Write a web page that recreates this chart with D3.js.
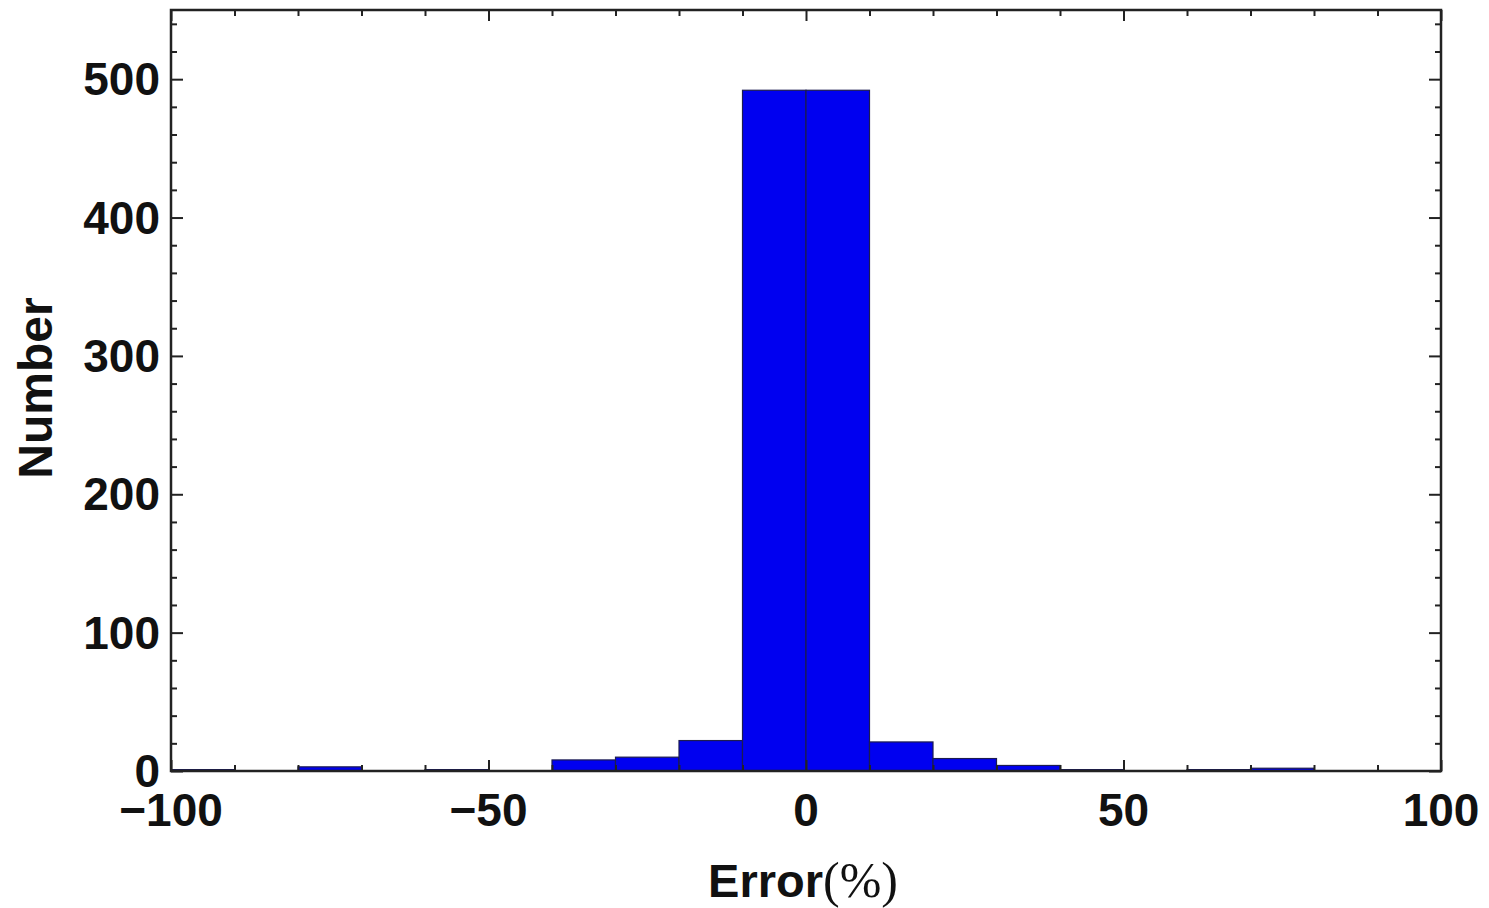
<!DOCTYPE html>
<html>
<head>
<meta charset="utf-8">
<script src="https://cdn.jsdelivr.net/npm/d3@7"></script>
<style>
  body { margin: 0; background: #fff; }
  svg { display: block; }
  .lbl { font-family: "Liberation Sans", Arial, sans-serif; font-weight: bold; fill: #111; }
</style>
</head>
<body>
<svg id="chart" width="1489" height="908"></svg>
<script>
// histogram bins (left edges, width 10) and counts
var binStarts = [-100, -90, -80, -70, -60, -50, -40, -30, -20, -10, 0, 10, 20, 30, 40, 50, 60, 70, 80, 90];
var counts    = [1, 0, 3, 0, 1, 0, 8, 10, 22, 492, 492, 21, 9, 4, 1, 0, 1, 2, 0, 0];
var binWidth = 10;

var xMajor = [-100, -50, 0, 50, 100];
var xMinor = [-90, -80, -70, -60, -40, -30, -20, -10, 10, 20, 30, 40, 60, 70, 80, 90];
var yMajor = [0, 100, 200, 300, 400, 500];
var yMinor = [20, 40, 60, 80, 120, 140, 160, 180, 220, 240, 260, 280, 320, 340, 360, 380, 420, 440, 460, 480, 520, 540];

var svg = d3.select('#chart');
var plotL = 171, plotR = 1441, plotT = 10, plotB = 771;

var x = d3.scaleLinear().domain([-100, 100]).range([plotL, plotR]);
var y = d3.scaleLinear().domain([0, 550]).range([plotB, plotT]);

// bars
svg.append('g').selectAll('rect')
  .data(binStarts.map(function (b, i) { return { x0: b, n: counts[i] }; }).filter(function (d) { return d.n > 0; }))
  .enter().append('rect')
  .attr('x', function (d) { return x(d.x0); })
  .attr('width', function (d) { return x(d.x0 + binWidth) - x(d.x0); })
  .attr('y', function (d) { return y(d.n); })
  .attr('height', function (d) { return y(0) - y(d.n); })
  .attr('fill', '#0000f0')
  .attr('stroke', '#1c1c50')
  .attr('stroke-width', 1.2);

// ticks on all four sides, pointing inward
function tickGroup(axis, tx, ty) {
  var g = svg.append('g').attr('transform', 'translate(' + tx + ',' + ty + ')').call(axis);
  g.select('.domain').remove();
  g.selectAll('text').remove();
  g.selectAll('line').attr('stroke', '#222').attr('stroke-width', 2);
  return g;
}
tickGroup(d3.axisBottom(x).tickValues(xMajor).tickSize(-11), 0, plotB);
tickGroup(d3.axisBottom(x).tickValues(xMinor).tickSize(-6), 0, plotB);
tickGroup(d3.axisTop(x).tickValues(xMajor).tickSize(-11), 0, plotT);
tickGroup(d3.axisTop(x).tickValues(xMinor).tickSize(-6), 0, plotT);
tickGroup(d3.axisLeft(y).tickValues(yMajor).tickSize(-12), plotL, 0);
tickGroup(d3.axisLeft(y).tickValues(yMinor).tickSize(-6), plotL, 0);
tickGroup(d3.axisRight(y).tickValues(yMajor).tickSize(-12), plotR, 0);
tickGroup(d3.axisRight(y).tickValues(yMinor).tickSize(-6), plotR, 0);

// frame
svg.append('rect')
  .attr('x', plotL).attr('y', plotT)
  .attr('width', plotR - plotL).attr('height', plotB - plotT)
  .attr('fill', 'none').attr('stroke', '#222').attr('stroke-width', 2.5);

// tick labels
svg.append('g').selectAll('text')
  .data(xMajor).enter().append('text')
  .attr('class', 'lbl')
  .attr('x', function (d) { return x(d); })
  .attr('y', 826)
  .attr('text-anchor', 'middle')
  .style('font-size', '46px')
  .text(function (d) { return d < 0 ? '\u2212' + Math.abs(d) : d; });

svg.append('g').selectAll('text')
  .data(yMajor).enter().append('text')
  .attr('class', 'lbl')
  .attr('x', 160)
  .attr('y', function (d) { return y(d) + 16; })
  .attr('text-anchor', 'end')
  .style('font-size', '46px')
  .text(function (d) { return d; });

// axis titles
var xt = svg.append('text')
  .attr('class', 'lbl')
  .attr('x', 803).attr('y', 897)
  .attr('text-anchor', 'middle')
  .style('font-size', '47px');
xt.append('tspan').text('Error');
xt.append('tspan')
  .style('font-family', '"Liberation Serif", "Times New Roman", serif')
  .style('font-weight', 'normal')
  .style('font-size', '50px')
  .text('(%)');

svg.append('text')
  .attr('class', 'lbl')
  .attr('transform', 'translate(52,388) rotate(-90)')
  .attr('text-anchor', 'middle')
  .style('font-size', '48px')
  .text('Number');
</script>
</body>
</html>
